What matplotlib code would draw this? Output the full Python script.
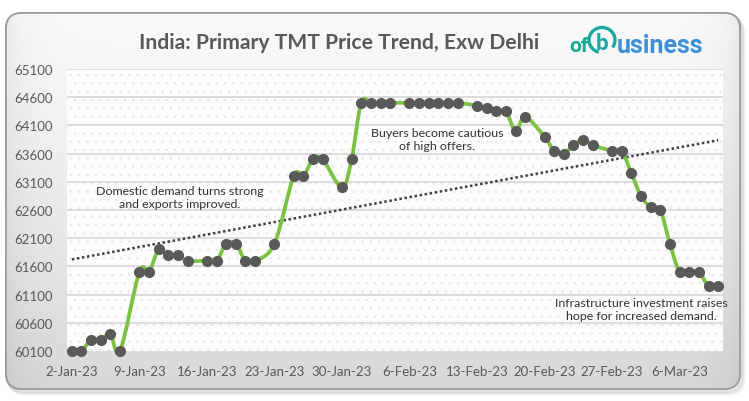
import numpy as np
import pandas as pd
import matplotlib
matplotlib.use("Agg")
import matplotlib.pyplot as plt
import matplotlib.dates as mdates
from matplotlib.path import Path
from matplotlib.patches import PathPatch, FancyBboxPatch, Rectangle, Arc

# ---------------- data ----------------
dates = [
    "2023-01-02", "2023-01-03", "2023-01-04", "2023-01-05", "2023-01-06", "2023-01-07",
    "2023-01-09", "2023-01-10", "2023-01-11", "2023-01-12", "2023-01-13", "2023-01-14",
    "2023-01-16", "2023-01-17", "2023-01-18", "2023-01-19", "2023-01-20", "2023-01-21",
    "2023-01-23", "2023-01-25", "2023-01-26", "2023-01-27", "2023-01-28",
    "2023-01-30", "2023-01-31", "2023-02-01", "2023-02-02", "2023-02-03", "2023-02-04",
    "2023-02-06", "2023-02-07", "2023-02-08", "2023-02-09", "2023-02-10", "2023-02-11",
    "2023-02-13", "2023-02-14", "2023-02-15", "2023-02-16", "2023-02-17", "2023-02-18",
    "2023-02-20", "2023-02-21", "2023-02-22", "2023-02-23", "2023-02-24", "2023-02-25",
    "2023-02-27", "2023-02-28", "2023-03-01", "2023-03-02", "2023-03-03", "2023-03-04",
    "2023-03-05", "2023-03-06", "2023-03-07", "2023-03-08", "2023-03-09", "2023-03-10",
]
prices = [
    60100, 60100, 60300, 60300, 60400, 60100,
    61500, 61500, 61900, 61800, 61800, 61700,
    61700, 61700, 62000, 62000, 61700, 61700,
    62000, 63200, 63200, 63500, 63500,
    63000, 63500, 64500, 64500, 64500, 64500,
    64500, 64500, 64500, 64500, 64500, 64500,
    64450, 64400, 64350, 64350, 64000, 64250,
    63900, 63650, 63600, 63750, 63850, 63750,
    63650, 63650, 63250, 62850, 62650, 62600,
    62000, 61500, 61500, 61500, 61250, 61250,
]
tick_dates = ["2023-01-02", "2023-01-09", "2023-01-16", "2023-01-23", "2023-01-30",
              "2023-02-06", "2023-02-13", "2023-02-20", "2023-02-27", "2023-03-06"]
tick_labels = ["2-Jan-23", "9-Jan-23", "16-Jan-23", "23-Jan-23", "30-Jan-23",
               "6-Feb-23", "13-Feb-23", "20-Feb-23", "27-Feb-23", "6-Mar-23"]
y_ticks = [60100, 60600, 61100, 61600, 62100, 62600, 63100, 63600, 64100, 64600, 65100]

title = "India: Primary TMT Price Trend, Exw Delhi"
notes = [
    ("Domestic demand turns strong\nand exports improved.", 180, 198),
    ("Buyers become cautious\nof high offers.", 437, 140),
    ("Infrastructure investment raises\nhope for increased demand.", 641, 310),
]

# ---------------- figure ----------------
W, H = 749, 402
fig = plt.figure(figsize=(W / 100, H / 100), dpi=100)
fig.patch.set_facecolor("white")

bg = fig.add_axes([0, 0, 1, 1])
bg.set_zorder(0)
bg.set_xlim(0, W)
bg.set_ylim(H, 0)
bg.axis("off")

for i, a in enumerate([0.05, 0.05, 0.04, 0.03]):
    sh = FancyBboxPatch((6 + 1 + i, 14 + 2 + i), 734, 376, boxstyle="round,pad=0,rounding_size=16",
                        facecolor="none", edgecolor=(0, 0, 0, a), linewidth=2.5, zorder=0)
    bg.add_patch(sh)

card = FancyBboxPatch((6, 14), 734, 376, boxstyle="round,pad=0,rounding_size=16",
                      facecolor="#e8e8e8", edgecolor="#9a9a9a", linewidth=1.2, zorder=1)
bg.add_patch(card)
gy = np.linspace(0, 1, 200)[:, None]
gx = np.linspace(0, 1, 300)[None, :]
vert = 0.975 - 0.13 * gy ** 1.3
edge = 0.05 * (np.exp(-gx / 0.03) + np.exp(-(1 - gx) / 0.03))
grad = np.clip(vert - edge, 0, 1)
im = bg.imshow(grad, cmap="gray", vmin=0, vmax=1, extent=(6, 740, 390, 14),
               aspect="auto", zorder=1.5, interpolation="bilinear")
im.set_clip_path(card)
bg.add_patch(FancyBboxPatch((6, 14), 734, 376, boxstyle="round,pad=0,rounding_size=16",
                            facecolor="none", edgecolor="#9a9a9a", linewidth=1.2, zorder=2))

bg.text(339, 43, title, ha="center", va="center", fontsize=15.2, fontweight="bold",
        color="#595959", family=["Lato", "DejaVu Sans"], zorder=3)

# logo
bg.text(569, 46, "of", ha="left", va="center", fontsize=15, fontweight="bold",
        color="#17a98a", family=["Roboto", "DejaVu Sans"], zorder=3)
bg.text(602, 44, "b", ha="center", va="center", fontsize=16, fontweight="bold",
        color="#1aa9a0", family=["Roboto", "DejaVu Sans"], zorder=3)
bg.add_patch(Arc((602, 41), 26, 25, theta1=105, theta2=395, color="#1aa9a0", lw=2.4, zorder=3))
bg.text(617, 46, "usiness", ha="left", va="center", fontsize=18, fontweight="bold",
        color="#3d8fd8", family=["Roboto", "DejaVu Sans"], zorder=3)

# ---------------- main axes ----------------
left, right, top, bottom = 67, 723, 70, 352
ax = fig.add_axes([left / W, 1 - bottom / H, (right - left) / W, (bottom - top) / H])
ax.set_zorder(5)
ax.set_facecolor("#fcfcfc")

x = mdates.date2num(pd.to_datetime(dates))
y = np.array(prices, dtype=float)
x0 = mdates.date2num(pd.Timestamp("2023-01-02"))
ax.set_xlim(x0 - 0.5, x0 + 67.5)
ax.set_ylim(60100, 65100)

plt.rcParams["hatch.color"] = "#e2e2e2"
plt.rcParams["hatch.linewidth"] = 0.3
ax.add_patch(Rectangle((0, 0), 1, 1, transform=ax.transAxes, facecolor="none",
                       edgecolor="#e2e2e2", hatch="..", linewidth=0, zorder=0))

for yt in y_ticks[1:]:
    ax.axhline(yt, color="#d9d9d9", lw=1.3, zorder=1)

# trendline (linear fit of the data)
k, b0 = np.polyfit(x, y, 1)
ax.plot([x[0], x[-1]], [k * x[0] + b0, k * x[-1] + b0], color="#404040",
        lw=1.8, linestyle=(0, (1, 1.05)), zorder=2)

# smoothed line (Excel-like Bezier through points)
pts = np.column_stack([x, y])
verts = [pts[0]]
codes = [Path.MOVETO]
n = len(pts)
for i in range(n - 1):
    p0 = pts[i - 1] if i > 0 else pts[i]
    p1 = pts[i]
    p2 = pts[i + 1]
    p3 = pts[i + 2] if i + 2 < n else pts[i + 1]
    c1 = p1 + (p2 - p0) / 6.0
    c2 = p2 - (p3 - p1) / 6.0
    verts += [c1, c2, p2]
    codes += [Path.CURVE4] * 3
ax.add_patch(PathPatch(Path(verts, codes), facecolor="none", edgecolor="#7cc242",
                       lw=2.7, zorder=3, capstyle="round", joinstyle="round", clip_on=False))
ax.plot(x, y, linestyle="none", marker="o", markersize=7, color="#595959", zorder=4,
        clip_on=False)

ax.set_xticks(mdates.date2num(pd.to_datetime(tick_dates)))
ax.set_xticklabels(tick_labels)
ax.set_yticks(y_ticks)
ax.set_yticklabels([str(v) for v in y_ticks])
ax.tick_params(length=0, labelsize=9.5, labelcolor="#595959", pad=10)
ax.tick_params(axis="x", pad=10)
for lab in ax.get_xticklabels() + ax.get_yticklabels():
    lab.set_family(["Lato", "DejaVu Sans"])
for s in ax.spines.values():
    s.set_visible(False)

ov = fig.add_axes([0, 0, 1, 1])
ov.set_zorder(10)
ov.set_xlim(0, W)
ov.set_ylim(H, 0)
ov.axis("off")
ov.patch.set_alpha(0)
for txt, tx, ty in notes:
    ov.text(tx, ty, txt, ha="center", va="center", fontsize=8.9, color="#333333",
            family=["Lato", "DejaVu Sans"], linespacing=1.3)

fig.savefig("out.png", dpi=100)
